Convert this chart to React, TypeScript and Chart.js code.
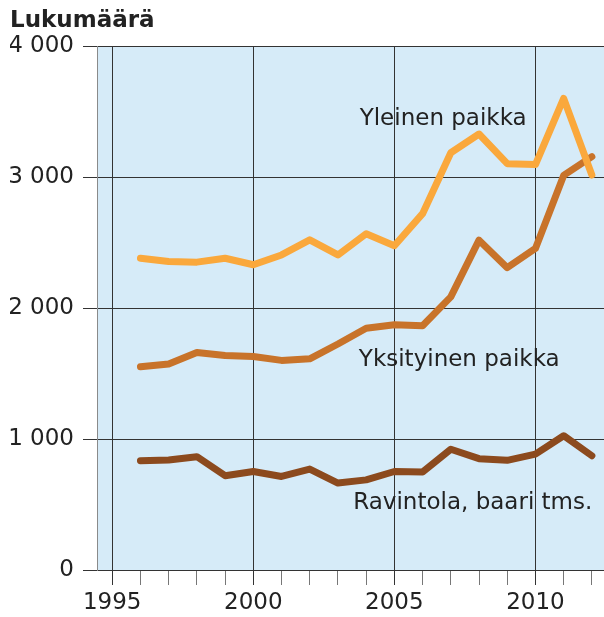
import React, { useEffect, useRef } from "react";
import { Chart, registerables } from "chart.js";

Chart.register(...registerables);

const years = [1996, 1997, 1998, 1999, 2000, 2001, 2002, 2003, 2004, 2005, 2006, 2007, 2008, 2009, 2010, 2011, 2012];
const yleinenPaikka = [2380, 2355, 2350, 2380, 2330, 2405, 2520, 2405, 2567, 2475, 2720, 3185, 3328, 3102, 3095, 3600, 3015];
const yksityinenPaikka = [1552, 1573, 1660, 1637, 1630, 1600, 1612, 1725, 1845, 1872, 1865, 2085, 2518, 2308, 2455, 3012, 3155];
const ravintolaBaari = [834, 840, 865, 720, 752, 714, 770, 664, 688, 752, 748, 922, 850, 837, 884, 1025, 872];

const seriesNames = ["Yleinen paikka", "Yksityinen paikka", "Ravintola, baari tms."];
const tickYears = [1995, 1996, 1997, 1998, 1999, 2000, 2001, 2002, 2003, 2004, 2005, 2006, 2007, 2008, 2009, 2010, 2011, 2012];
const labeledYears = [1995, 2000, 2005, 2010];
const yTickValues = [0, 1000, 2000, 3000, 4000];
const yTickLabels = ["0", "1 000", "2 000", "3 000", "4 000"];
const titleText = "Lukumäärä";

const FONT = "'DejaVu Sans', Verdana, sans-serif";

export default function App() {
  const ref = useRef<HTMLCanvasElement | null>(null);

  useEffect(() => {
    document.body.style.margin = "0";
    const canvas = ref.current;
    if (!canvas) return;

    const bgPlugin = {
      id: "bgfill",
      beforeDraw(chart: any) {
        const { ctx, chartArea } = chart;
        ctx.save();
        ctx.fillStyle = "#D6EBF8";
        ctx.fillRect(chartArea.left, chartArea.top, chartArea.right - chartArea.left, chartArea.bottom - chartArea.top);
        ctx.restore();
      },
    };

    const annotations = [
      { text: seriesNames[0], x: 2006.73, y: 3399 },
      { text: seriesNames[1], x: 2007.3, y: 1560 },
      { text: seriesNames[2], x: 2007.78, y: 466 },
    ];

    const labelPlugin = {
      id: "seriesLabels",
      afterDatasetsDraw(chart: any) {
        const { ctx, scales } = chart;
        ctx.save();
        ctx.font = `23px ${FONT}`;
        ctx.fillStyle = "#222222";
        ctx.textAlign = "center";
        ctx.textBaseline = "alphabetic";
        for (const a of annotations) {
          ctx.fillText(a.text, scales.x.getPixelForValue(a.x), scales.y.getPixelForValue(a.y));
        }
        ctx.restore();
      },
    };

    const mk = (vals: number[]) => years.map((x, i) => ({ x, y: vals[i] }));
    const lineStyle = {
      borderWidth: 7,
      pointRadius: 0,
      tension: 0,
      borderCapStyle: "round" as const,
      borderJoinStyle: "round" as const,
      fill: false,
    };

    const chart = new Chart(canvas, {
      type: "line",
      data: {
        datasets: [
          { label: seriesNames[0], data: mk(yleinenPaikka), borderColor: "#FAA83C", ...lineStyle },
          { label: seriesNames[1], data: mk(yksityinenPaikka), borderColor: "#C8732A", ...lineStyle },
          { label: seriesNames[2], data: mk(ravintolaBaari), borderColor: "#8C4A1E", ...lineStyle },
        ],
      },
      options: {
        responsive: false,
        animation: false,
        layout: { padding: { left: 10, top: 0, right: 0, bottom: 0 } },
        plugins: {
          legend: { display: false },
          tooltip: { enabled: false },
          title: {
            display: true,
            text: titleText,
            align: "start",
            color: "#222222",
            font: { family: FONT, size: 23, weight: "bold", lineHeight: 1.2 },
            padding: { top: 7, bottom: 11.4 },
          },
        },
        scales: {
          x: {
            type: "linear",
            min: 1994.46,
            max: 2012.43,
            afterBuildTicks: (scale: any) => {
              scale.ticks = tickYears.map((v) => ({ value: v }));
            },
            afterFit: (scale: any) => {
              scale.height = 47;
            },
            ticks: {
              autoSkip: false,
              maxRotation: 0,
              padding: 4,
              color: "#222222",
              font: { family: FONT, size: 23 },
              callback: (v: any) => (labeledYears.includes(Number(v)) ? String(v) : ""),
            },
            grid: {
              drawOnChartArea: true,
              color: (c: any) => (labeledYears.includes(c.tick?.value) ? "#333333" : "rgba(0,0,0,0)"),
              tickColor: (c: any) => (labeledYears.includes(c.tick?.value) ? "#333333" : "#777777"),
              tickLength: 15,
              lineWidth: 1,
            },
            border: { display: true, color: "#333333", width: 1 },
          },
          y: {
            type: "linear",
            min: 0,
            max: 4000,
            afterBuildTicks: (scale: any) => {
              scale.ticks = yTickValues.map((v) => ({ value: v }));
            },
            afterFit: (scale: any) => {
              scale.width = 87;
            },
            ticks: {
              padding: 9,
              color: "#222222",
              font: { family: FONT, size: 23 },
              callback: (v: any) => {
                const i = yTickValues.indexOf(Number(v));
                return i >= 0 ? yTickLabels[i] : "";
              },
            },
            grid: {
              color: "#333333",
              tickColor: "#333333",
              tickLength: 14,
              lineWidth: 1,
            },
            border: { display: true, color: "#8a8a8a", width: 1 },
          },
        },
      },
      plugins: [bgPlugin, labelPlugin],
    } as any);

    return () => chart.destroy();
  }, []);

  return (
    <div style={{ position: "absolute", left: 0, top: 0, width: 604, height: 617 }}>
      <canvas ref={ref} width={604} height={617} style={{ display: "block" }} />
    </div>
  );
}
